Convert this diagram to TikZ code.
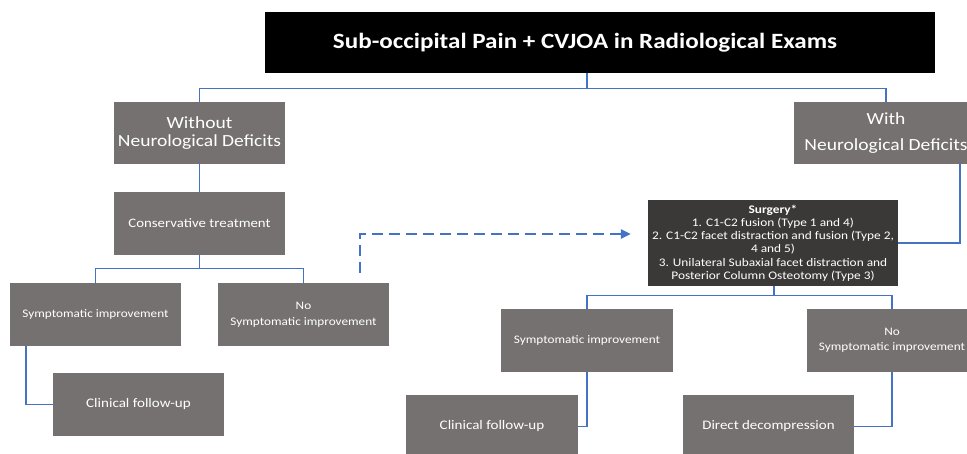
\documentclass[tikz,border=0pt]{standalone}
\usepackage{fontspec}
\setmainfont{Carlito}[FakeStretch=1.15]
\usetikzlibrary{arrows.meta}
\definecolor{boxgray}{HTML}{767171}
\definecolor{darkbox}{HTML}{3B3838}
\definecolor{conn}{HTML}{4472C4}
\begin{document}
\begin{tikzpicture}[x=1pt,y=-1pt,
  gbox/.style={fill=boxgray, text=white, inner sep=0pt, align=center},
  link/.style={draw=conn, line width=1.2pt},
  dasharrow/.style={draw=conn, line width=2.6pt, dash pattern=on 11pt off 6pt, -{Triangle[length=10pt,width=9pt]}}]
\useasboundingbox (0,0) rectangle (967,453);

% top
\node[fill=black, inner sep=0pt, minimum width=670pt, minimum height=61pt] (top) at (600,42.5) {};
\node[text=white, font=\fontsize{21.8}{24}\selectfont\bfseries, inner sep=0pt] (title) at (585,42.5) {Sub-occipital Pain + CVJOA in Radiological Exams};

% second level
\node[gbox, minimum width=171pt, minimum height=62pt, font=\fontsize{17}{18}\selectfont] (without) at (199.5,133) {Without\\Neurological Deficits};
\node[gbox, minimum width=184pt, minimum height=62pt, font=\fontsize{17}{26}\selectfont] (with) at (886,133) {With\\Neurological Deficits};

% left branch
\node[gbox, minimum width=171pt, minimum height=63pt, font=\fontsize{12.9}{15}\selectfont] (cons) at (199.5,223.5) {Conservative treatment};
\node[gbox, minimum width=171pt, minimum height=63pt, font=\fontsize{11.5}{16}\selectfont] (sympL) at (95.5,314.5) {Symptomatic improvement};
\node[gbox, minimum width=171pt, minimum height=63pt, font=\fontsize{11.5}{16}\selectfont] (nosympL) at (303.5,314.5) {No\\Symptomatic improvement};
\node[gbox, minimum width=171pt, minimum height=63pt, font=\fontsize{13.1}{16}\selectfont] (clinL) at (138.5,404.5) {Clinical follow-up};

% right branch
\node[fill=darkbox, text=white, inner sep=0pt, align=center, minimum width=250pt, minimum height=86pt, font=\fontsize{11.6}{13.2}\selectfont] (surgery) at (773,243) {\textbf{Surgery*}\\1. C1-C2 fusion (Type 1 and 4)\\2. C1-C2 facet distraction and fusion (Type 2,\\4 and 5)\\3. Unilateral Subaxial facet distraction and\\Posterior Column Osteotomy (Type 3)};
\node[gbox, minimum width=172pt, minimum height=63pt, font=\fontsize{11.5}{16}\selectfont] (sympR) at (587,340.5) {Symptomatic improvement};
\node[gbox, minimum width=170pt, minimum height=63pt, font=\fontsize{11.5}{15}\selectfont] (nosympR) at (892,340.5) {No\\Symptomatic improvement};
\node[gbox, minimum width=172pt, minimum height=63pt, font=\fontsize{13.1}{16}\selectfont] (clinR) at (492,426.5) {Clinical follow-up};
\node[gbox, minimum width=171pt, minimum height=63pt, font=\fontsize{13}{16}\selectfont] (direct) at (768.5,426.5) {Direct decompression};

% connectors
\coordinate (tsplit) at ([xshift=-13pt,yshift=-15pt]top.south);
\draw[link] ([xshift=-13pt]top.south) -- (tsplit);
\draw[link] (tsplit) -| (without.north);
\draw[link] (tsplit) -| (with.north);
\draw[link] (without) -- (cons);
\coordinate (csplit) at ([yshift=-13pt]cons.south);
\draw[link] (cons.south) -- (csplit);
\draw[link] (csplit) -| (sympL.north);
\draw[link] (csplit) -| (nosympL.north);
\draw[link] ([xshift=-69.5pt]sympL.south) |- (clinL.west);
\draw[dasharrow] ([xshift=56.5pt,yshift=10pt]nosympL.north) |- ([xshift=-17pt,yshift=9pt]surgery.west);
\draw[link] ([xshift=74pt]with.south) |- (surgery.east);
\coordinate (ssplit) at ([xshift=1pt,yshift=-9pt]surgery.south);
\draw[link] ([xshift=1pt]surgery.south) -- (ssplit);
\draw[link] (ssplit) -| (sympR.north);
\draw[link] (ssplit) -| (nosympR.north);
\draw[link] (sympR.south) |- (clinR.east);
\draw[link] (nosympR.south) |- (direct.east);
\end{tikzpicture}
\end{document}
